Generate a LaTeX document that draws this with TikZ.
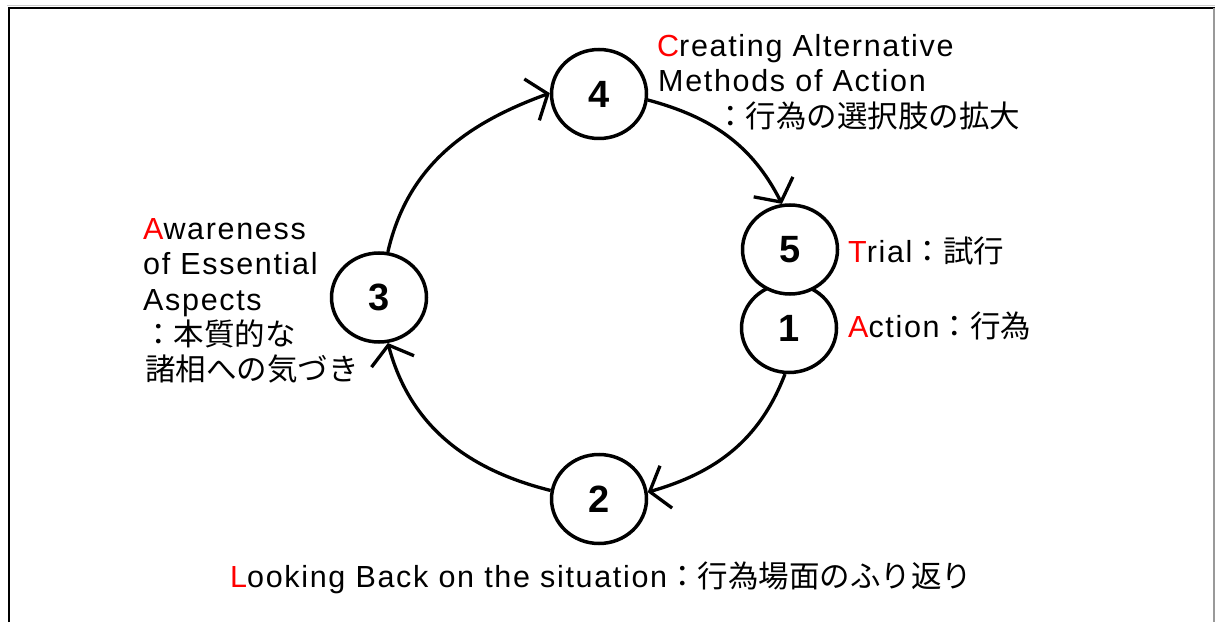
\documentclass[tikz,border=0pt]{standalone}
\usepackage{fontspec}
\setmainfont{Liberation Sans}
\newfontfamily\lat{Liberation Sans}[LetterSpace=5.5]
\newfontfamily\jpfont{Noto Sans CJK JP}
\usetikzlibrary{arrows.meta,shapes.geometric}
\definecolor{initred}{RGB}{255,0,0}
\newcommand\ja[1]{{\jpfont\fontsize{30.5}{35}\selectfont #1}}
\newcommand\ini[1]{\textcolor{initred}{#1}}

\tikzset{
  stage/.style={ellipse, draw, line width=3.5pt, fill=white,
    minimum width=95pt, minimum height=89pt, inner sep=0pt,
    font=\fontsize{38}{38}\selectfont\bfseries},
  cyc/.style={line width=3.3pt, -{Straight Barb[length=17pt,width=44pt]}},
  lbl/.style={anchor=base west, inner sep=0pt,
    font=\lat\fontsize{30.5}{35}\selectfont},
}

\begin{document}
\begin{tikzpicture}[x=1pt,y=1pt]
\useasboundingbox (0,0) rectangle (1215,622);

% slide frame
\draw[line width=1pt, black!20] (7,616.5) -- (1215,616.5);
\draw[line width=2.2pt] (9,0) -- (9,614) -- (1215,614);
\draw[line width=1.5pt, black!40] (1214,614) -- (1214,0);

% the five stages
\node[stage] (n4) at (599,528) {4};
\node[stage] (n1) at (789,294) {1};
\node[stage] (n5) at (790,372.5) {5};
\node[stage] (n3) at (379,324.5) {3};
\node[stage] (n2) at (599,123) {2};

% the cycle
\draw[cyc] (n4.-7) to[out=-15,in=117] (n5.100);
\draw[cyc] (n1.-95) to[out=-111,in=16] (n2.8);
\draw[cyc] (n2.170) to[out=166,in=-75] (n3.-79);
\draw[cyc] (n3.79) to[out=77,in=200] (n4.179);

% labels
\node[lbl] (tC1) at (657,565) {\ini{C}reating Alternative};
\node[lbl] (tC2) at (658,530) {Methods of Action};
\node[lbl] (tC3) at (715,494) {\ja{：行為の選択肢の拡大}};
\node[lbl] (tT) at (848,359) {\ini{T}rial\ja{：試行}};
\node[lbl] (tA) at (848,285) {\ini{A}ction\ja{：行為}};
\node[lbl] (tW1) at (143,382) {\ini{A}wareness};
\node[lbl] (tW2) at (143,347) {of Essential};
\node[lbl] (tW3) at (143,312) {Aspects};
\node[lbl] (tW4) at (143,277) {\ja{：本質的な}};
\node[lbl] (tW5) at (145,242) {\ja{諸相への気づき}};
\node[lbl] (tL) at (230,35) {\ini{L}ooking Back on the situation\ja{：行為場面のふり返り}};
\end{tikzpicture}
\end{document}
